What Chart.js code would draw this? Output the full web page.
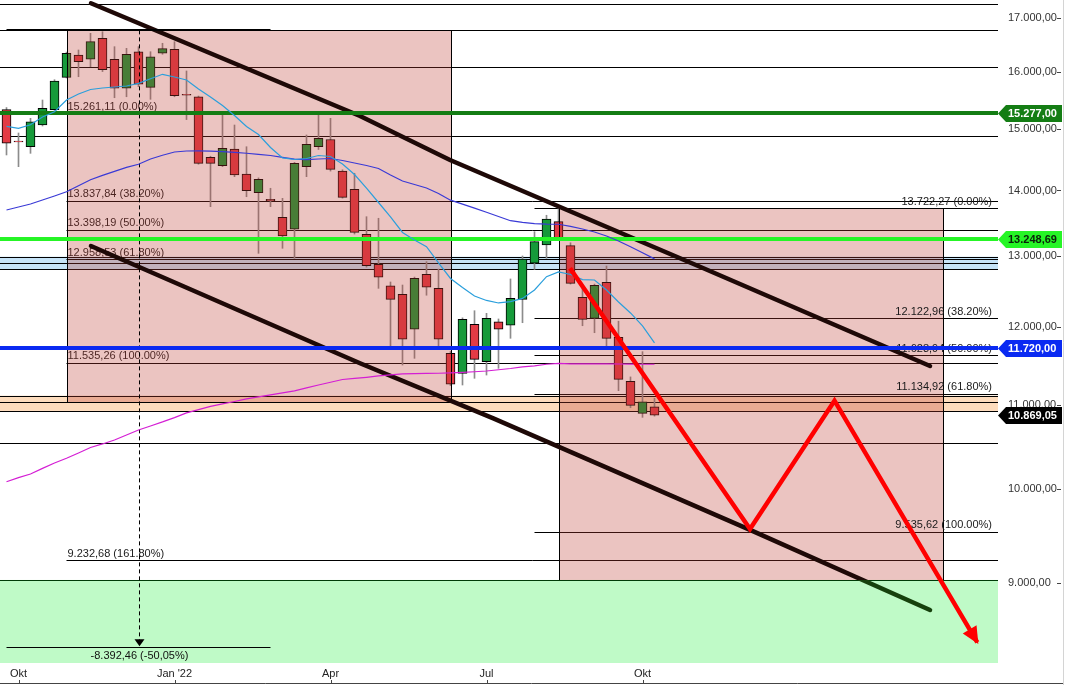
<!DOCTYPE html>
<html>
<head>
<meta charset="utf-8">
<script src="https://cdn.jsdelivr.net/npm/chart.js@4.4.1/dist/chart.umd.min.js"></script>
<style>
  html, body { margin: 0; padding: 0; background: #fff; }
  #wrap { position: relative; width: 1071px; height: 685px; }
</style>
</head>
<body>
<div id="wrap"><canvas id="chart"></canvas></div>
<script>
const FONT = '"Liberation Sans", Arial, sans-serif';

// weekly candles, index 0 = week of 27 Sep 2021 ... index 54 = week of 10 Oct 2022
const opens  = [15334, 14800, 14707, 15071, 15334, 15902, 16307, 16228, 16616, 16228, 15707, 16367, 15724, 16338, 16411, 15600, 15558, 14533, 14396, 14669, 14262, 13965, 13862, 13584, 13403, 14380, 14707, 14827, 14309, 14018, 13326, 12884, 12577, 12456, 11975, 12739, 12540, 11656, 11396, 12042, 11546, 12077, 12029, 12386, 12899, 13167, 13517, 13157, 12414, 12124, 12626, 11867, 11294, 10894, 10975];
const highs  = [15370, 14936, 15185, 15501, 15859, 16360, 16399, 16710, 16740, 16460, 16430, 16460, 16367, 16523, 16553, 16016, 15570, 14550, 15242, 15071, 14707, 14200, 14035, 13877, 14450, 14902, 15242, 15185, 14330, 14274, 13593, 13569, 12630, 12587, 12700, 12922, 12814, 11680, 12130, 12228, 12192, 12115, 12673, 13005, 13366, 13615, 13722, 13200, 12561, 12600, 12859, 12085, 11350, 11677, 11080];
const lows   = [14571, 14380, 14598, 15054, 15320, 15890, 15913, 16093, 16005, 15541, 15558, 15735, 15513, 16320, 15558, 15163, 14420, 13747, 14380, 14219, 13902, 13044, 13747, 13118, 12971, 14219, 14661, 14309, 13880, 13330, 12843, 12540, 11721, 11503, 11590, 12443, 11743, 11240, 11247, 11332, 11374, 11460, 11854, 12064, 12810, 12971, 13240, 12600, 12023, 11929, 11721, 11175, 10963, 10845, 10860];
const closes = [14764, 14785, 15127, 15357, 15836, 16338, 16184, 16553, 16038, 15707, 16320, 15778, 16275, 16423, 15576, 15585, 14435, 14435, 14681, 14246, 13997, 14178, 13838, 13301, 14435, 14747, 14847, 14336, 13893, 13356, 12864, 12697, 12386, 11841, 12683, 12555, 11841, 11256, 12110, 11577, 12124, 11975, 12400, 12959, 13216, 13558, 13253, 12611, 12110, 12583, 11854, 11319, 10993, 11037, 10870];
const weeks = opens.map((_, i) => i);

// moving averages
const maFast = [15048, 15015, 15076, 15207, 15298, 15501, 15606, 15685, 15712, 15730, 15747, 15795, 15877, 15956, 15908, 15854, 15694, 15554, 15405, 15233, 15046, 14911, 14694, 14522, 14497, 14513, 14562, 14546, 14424, 14254, 14039, 13812, 13589, 13354, 13241, 13142, 12903, 12680, 12552, 12433, 12370, 12335, 12353, 12398, 12517, 12705, 12773, 12737, 12663, 12658, 12517, 12349, 12197, 12020, 11792];
const maMid  = [13696, 13742, 13789, 13851, 13914, 13981, 14076, 14170, 14240, 14304, 14370, 14420, 14505, 14567, 14620, 14636, 14638, 14633, 14626, 14615, 14599, 14582, 14562, 14531, 14502, 14494, 14505, 14513, 14481, 14440, 14399, 14351, 14246, 14150, 14095, 14039, 13953, 13848, 13786, 13724, 13662, 13596, 13532, 13505, 13488, 13480, 13478, 13446, 13406, 13361, 13301, 13227, 13140, 13053, 12963];
const maSlow = [10087, 10133, 10175, 10240, 10302, 10357, 10419, 10483, 10525, 10572, 10632, 10692, 10740, 10789, 10842, 10899, 10939, 10980, 11010, 11040, 11072, 11097, 11122, 11147, 11174, 11210, 11247, 11282, 11317, 11330, 11345, 11362, 11375, 11388, 11393, 11396, 11397, 11401, 11407, 11416, 11426, 11442, 11458, 11478, 11493, 11513, 11523, 11517, 11517, 11517, 11517, 11516, 11515, 11513, 11513];

// trend channel and projected path (week index, price)
const upperX = [7.04, 29.46, 36.96, 57.79, 76.96];
const upperY = [17284, 15225, 14489, 12848, 11490];
const lowerX = [7.04, 29.46, 40.57, 61.96, 76.96];
const lowerY = [13152, 11526, 10833, 9554, 8731];
const pathX = [46.96, 61.96, 69.0, 80.9];
const pathY = [12827, 9565, 11050, 8419];

// fibonacci retracements
const fib1From = 5;
const fib1Levels = [15261.11, 13837.84, 13398.19, 12958.53, 11535.26, 9232.68];
const fib1Pct = [0, 38.2, 50, 61.8, 100, 161.8];
const fib2From = 44;
const fib2Levels = [13722.27, 12122.96, 11628.94, 11134.92, 9535.62];
const fib2Pct = [0, 38.2, 50, 61.8, 100];

// shaded boxes
const boxFrom = [5, 46];
const boxTo = [37, 78];
const boxTop = [16765, 13722.27];
const boxBottom = [11037, 9031];

// horizontal levels
const thinLevels = [17264, 16765, 16082, 14880, 12995, 12899, 12812, 11113, 11037, 10923, 10533, 9031];
const bandLow = [12812, 10923];
const bandHigh = [12995, 11113];
const bandColor = ['#c5e3f7', '#fddcbd'];
const keyLevels = [15277, 13248.69, 11720];
const keyColor = ['#147d14', '#26f526', '#0a2af2'];
const zoneTop = 9031;

// price badges on the axis
const badgeValues = [15277, 13248.69, 11720, 10869.05];
const badgeFill = ['#147d14', '#26f526', '#0a2af2', '#000000'];
const badgeText = ['#ffffff', '#0a200a', '#ffffff', '#ffffff'];

// measured move
const measureFrom = 0, measureTo = 22, measureAt = 11;
const measureHigh = 16765, measureLow = 8372.5;
const measureLabel = '-8.392,46 (-50,05%)';

// axes
const xTickPos = [1, 14, 27, 40, 53];
const xTickText = ['Okt', "Jan '22", 'Apr', 'Jul', 'Okt'];
const yTicks = [9000, 10000, 11000, 12000, 13000, 14000, 15000, 16000, 17000];
const xMin = -0.5417, xMax = 82.625;
const yMin = 8225, yMax = 17348;

function fmt(v) {
    const parts = v.toFixed(2).split('.');
    return parts[0].replace(/\B(?=(\d{3})+(?!\d))/g, '.') + ',' + parts[1];
}

function hline(ctx, x0, x1, y) {
    const yy = Math.round(y) + 0.5;
    ctx.beginPath();
    ctx.moveTo(x0, yy);
    ctx.lineTo(x1, yy);
    ctx.stroke();
}

function drawBoxes(chart) {
    const { ctx, scales: { x, y } } = chart;
    boxFrom.forEach((from, k) => {
        const x0 = Math.round(x.getPixelForValue(from));
        const x1 = Math.round(x.getPixelForValue(boxTo[k]));
        const y0 = Math.round(y.getPixelForValue(boxTop[k]));
        const y1 = Math.round(y.getPixelForValue(boxBottom[k]));
        ctx.fillStyle = 'rgba(190, 60, 50, 0.3)';
        ctx.fillRect(x0, y0, x1 - x0, y1 - y0);
        ctx.strokeStyle = '#000';
        ctx.lineWidth = 1;
        ctx.strokeRect(x0 + 0.5, y0 + 0.5, x1 - x0, y1 - y0);
    });
}

function drawOverlays(chart) {
    const { ctx, chartArea: a, scales: { x, y } } = chart;

    // target zone
    const zy = y.getPixelForValue(zoneTop);
    ctx.fillStyle = 'rgba(0, 235, 30, 0.25)';
    ctx.fillRect(a.left, zy, a.right - a.left, a.bottom - zy);

    // measured move
    const mx0 = x.getPixelForValue(measureFrom);
    const mx1 = x.getPixelForValue(measureTo);
    const mxc = Math.round(x.getPixelForValue(measureAt)) + 0.5;
    const myTop = y.getPixelForValue(measureHigh);
    const myLow = y.getPixelForValue(measureLow);
    ctx.strokeStyle = '#000';
    ctx.lineWidth = 2;
    ctx.beginPath();
    ctx.moveTo(mx0, Math.round(myTop));
    ctx.lineTo(mx1, Math.round(myTop));
    ctx.stroke();
    ctx.lineWidth = 1;
    hline(ctx, mx0, mx1, myLow);
    ctx.setLineDash([4, 3]);
    ctx.beginPath();
    ctx.moveTo(mxc, myTop);
    ctx.lineTo(mxc, myLow - 7);
    ctx.stroke();
    ctx.setLineDash([]);
    ctx.fillStyle = '#000';
    ctx.beginPath();
    ctx.moveTo(mxc - 5, myLow - 8);
    ctx.lineTo(mxc + 5, myLow - 8);
    ctx.lineTo(mxc, myLow - 1);
    ctx.closePath();
    ctx.fill();
    ctx.font = '11px ' + FONT;
    ctx.textAlign = 'center';
    ctx.textBaseline = 'top';
    ctx.fillStyle = '#111';
    ctx.fillText(measureLabel, mxc, myLow + 3);

    // second retracement labels
    ctx.textAlign = 'right';
    ctx.textBaseline = 'bottom';
    ctx.fillStyle = '#1a1a1a';
    fib2Levels.forEach((v, k) => {
        ctx.fillText(fmt(v) + ' (' + fib2Pct[k].toFixed(2) + '%)', a.right - 6, y.getPixelForValue(v) - 1);
    });

    // key levels
    ctx.lineWidth = 4;
    keyLevels.forEach((v, k) => {
        const ly = Math.round(y.getPixelForValue(v));
        ctx.strokeStyle = keyColor[k];
        ctx.beginPath();
        ctx.moveTo(a.left, ly);
        ctx.lineTo(a.right, ly);
        ctx.stroke();
    });
}

const annotations = {
    id: 'annotations',
    beforeDatasetsDraw(chart) {
        const { ctx, chartArea: a, scales: { x, y } } = chart;
        ctx.save();
        bandLow.forEach((lo, k) => {
            const y0 = y.getPixelForValue(bandHigh[k]);
            const y1 = y.getPixelForValue(lo);
            ctx.fillStyle = bandColor[k];
            ctx.fillRect(a.left, y0, a.right - a.left, y1 - y0);
        });
        ctx.strokeStyle = '#000';
        ctx.lineWidth = 1;
        thinLevels.forEach(v => hline(ctx, a.left, a.right, y.getPixelForValue(v)));
        fib1Levels.forEach(v => hline(ctx, x.getPixelForValue(fib1From), a.right, y.getPixelForValue(v)));
        fib2Levels.forEach(v => hline(ctx, x.getPixelForValue(fib2From), a.right, y.getPixelForValue(v)));

        ctx.font = '11px ' + FONT;
        ctx.fillStyle = '#1a1a1a';
        ctx.textAlign = 'left';
        ctx.textBaseline = 'bottom';
        fib1Levels.forEach((v, k) => {
            ctx.fillText(fmt(v) + ' (' + fib1Pct[k].toFixed(2) + '%)', x.getPixelForValue(fib1From) + 1, y.getPixelForValue(v) - 1);
        });
        ctx.restore();
    },
    afterDatasetDraw(chart, args) {
        if (args.index === 1) {
            chart.ctx.save();
            drawBoxes(chart);
            chart.ctx.restore();
        } else if (args.index === 3) {
            chart.ctx.save();
            drawOverlays(chart);
            chart.ctx.restore();
        }
    },
    afterDatasetsDraw(chart) {
        const { ctx, chartArea: a, scales: { x, y } } = chart;
        ctx.save();

        // arrow head on projected path
        const n = pathX.length;
        const p1x = x.getPixelForValue(pathX[n - 2]), p1y = y.getPixelForValue(pathY[n - 2]);
        const p2x = x.getPixelForValue(pathX[n - 1]), p2y = y.getPixelForValue(pathY[n - 1]);
        const len = Math.hypot(p2x - p1x, p2y - p1y);
        const dx = (p2x - p1x) / len, dy = (p2y - p1y) / len;
        const tx = p2x + dx * 2, ty = p2y + dy * 2;
        const bx = tx - dx * 17, by = ty - dy * 17;
        ctx.fillStyle = '#ff0000';
        ctx.beginPath();
        ctx.moveTo(tx, ty);
        ctx.lineTo(bx - dy * 8, by + dx * 8);
        ctx.lineTo(bx + dy * 8, by - dx * 8);
        ctx.closePath();
        ctx.fill();

        // axis frame and tick marks
        ctx.strokeStyle = '#d4d4d4';
        ctx.lineWidth = 1;
        ctx.beginPath();
        ctx.moveTo(a.right + 65.5, 0);
        ctx.lineTo(a.right + 65.5, chart.height);
        ctx.stroke();
        ctx.strokeStyle = '#444';
        yTicks.forEach(v => {
            const ty2 = Math.round(y.getPixelForValue(v)) + 0.5;
            ctx.beginPath();
            ctx.moveTo(a.right + 59, ty2);
            ctx.lineTo(a.right + 63, ty2);
            ctx.stroke();
        });
        ctx.beginPath();
        ctx.moveTo(0, chart.height - 1.5);
        ctx.lineTo(a.right + 65, chart.height - 1.5);
        ctx.stroke();
        xTickPos.forEach(v => {
            const tx2 = Math.round(x.getPixelForValue(v)) + 0.5;
            ctx.beginPath();
            ctx.moveTo(tx2, chart.height - 5);
            ctx.lineTo(tx2, chart.height - 1);
            ctx.stroke();
        });

        // price badges
        ctx.font = 'bold 11px ' + FONT;
        ctx.textAlign = 'left';
        ctx.textBaseline = 'middle';
        badgeValues.forEach((v, k) => {
            const cy = Math.round(y.getPixelForValue(v)) + 0.5;
            const l = a.right;
            ctx.fillStyle = badgeFill[k];
            ctx.beginPath();
            ctx.moveTo(l, cy);
            ctx.lineTo(l + 8, cy - 8.5);
            ctx.lineTo(l + 64, cy - 8.5);
            ctx.lineTo(l + 64, cy + 8.5);
            ctx.lineTo(l + 8, cy + 8.5);
            ctx.closePath();
            ctx.fill();
            ctx.fillStyle = badgeText[k];
            ctx.fillText(fmt(v), l + 10, cy + 0.5);
        });
        ctx.restore();
    }
};

const lineStyle = { pointRadius: 0, tension: 0, fill: false };

new Chart(document.getElementById('chart'), {
    type: 'bar',
    data: {
        datasets: [
            {
                label: 'range',
                data: weeks.map(i => ({ x: i, y: [lows[i], highs[i]] })),
                backgroundColor: '#8c8c8c',
                barThickness: 1,
                grouped: false,
                order: 9
            },
            {
                label: 'body',
                data: weeks.map(i => ({ x: i, y: [opens[i], closes[i]] })),
                backgroundColor: weeks.map(i => closes[i] >= opens[i] ? '#169a3a' : '#e33b45'),
                borderColor: '#000',
                borderWidth: 1,
                borderSkipped: false,
                barThickness: 9,
                grouped: false,
                order: 8
            },
            {
                type: 'line', label: 'upper',
                data: upperX.map((v, k) => ({ x: v, y: upperY[k] })),
                borderColor: '#1e0907', borderWidth: 4.5, borderCapStyle: 'round',
                ...lineStyle, order: 7
            },
            {
                type: 'line', label: 'lower',
                data: lowerX.map((v, k) => ({ x: v, y: lowerY[k] })),
                borderColor: '#1e0907', borderWidth: 4.5, borderCapStyle: 'round',
                ...lineStyle, order: 6
            },
            {
                type: 'line', label: 'ma fast',
                data: weeks.map(i => ({ x: i, y: maFast[i] })),
                borderColor: '#2b9fdc', borderWidth: 1.2,
                ...lineStyle, order: 4
            },
            {
                type: 'line', label: 'ma mid',
                data: weeks.map(i => ({ x: i, y: maMid[i] })),
                borderColor: '#3a3ad6', borderWidth: 1.2,
                ...lineStyle, order: 4
            },
            {
                type: 'line', label: 'ma slow',
                data: weeks.map(i => ({ x: i, y: maSlow[i] })),
                borderColor: '#d41ed4', borderWidth: 1.2,
                ...lineStyle, order: 4
            },
            {
                type: 'line', label: 'path',
                data: pathX.map((v, k) => ({ x: v, y: pathY[k] })),
                borderColor: '#ff0000', borderWidth: 4.5, borderJoinStyle: 'miter',
                ...lineStyle, order: 1
            }
        ]
    },
    options: {
        animation: false,
        responsive: true,
        maintainAspectRatio: false,
        layout: { padding: 0 },
        plugins: { legend: { display: false }, tooltip: { enabled: false } },
        scales: {
            x: {
                type: 'linear', min: xMin, max: xMax, bounds: 'data', offset: false,
                grid: { display: false, drawTicks: false },
                border: { display: false },
                afterBuildTicks: s => { s.ticks = xTickPos.map(v => ({ value: v })); },
                afterFit: s => { s.height = 22; s.paddingLeft = 0; s.paddingRight = 0; },
                ticks: {
                    callback: (v, i) => xTickText[i],
                    color: '#222', font: { family: FONT, size: 11 },
                    padding: 4, maxRotation: 0, autoSkip: false
                }
            },
            y: {
                type: 'logarithmic', position: 'right', min: yMin, max: yMax, bounds: 'data',
                grid: { display: false, drawTicks: false },
                border: { display: false },
                afterBuildTicks: s => { s.ticks = yTicks.map(v => ({ value: v })); },
                afterFit: s => { s.width = 73; s.paddingTop = 0; s.paddingBottom = 0; },
                ticks: {
                    callback: v => fmt(v),
                    color: '#333', font: { family: FONT, size: 11 },
                    padding: 10, autoSkip: false
                }
            }
        }
    },
    plugins: [annotations]
});
</script>
</body>
</html>
